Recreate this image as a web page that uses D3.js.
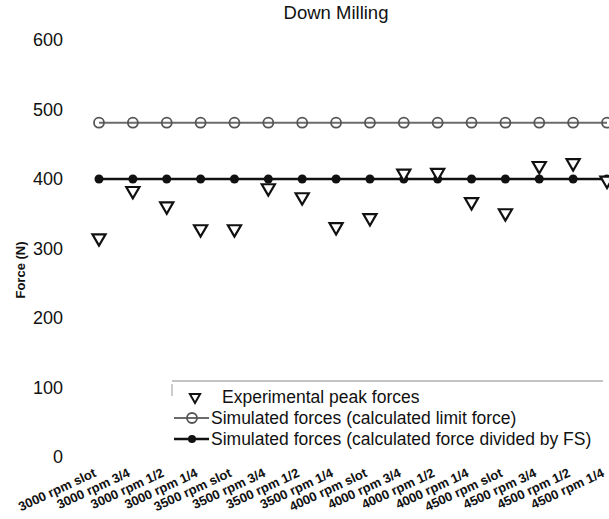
<!DOCTYPE html>
<html>
<head>
<meta charset="utf-8">
<script src="https://cdn.jsdelivr.net/npm/d3@7"></script>
<style>
  body { margin: 0; background: #fff; }
  svg { display: block; font-family: "Liberation Sans", Arial, sans-serif; }
</style>
</head>
<body>
<div id="chart"></div>
<script>
// data
var categories = ["3000 rpm slot", "3000 rpm 3/4", "3000 rpm 1/2", "3000 rpm 1/4",
                  "3500 rpm slot", "3500 rpm 3/4", "3500 rpm 1/2", "3500 rpm 1/4",
                  "4000 rpm slot", "4000 rpm 3/4", "4000 rpm 1/2", "4000 rpm 1/4",
                  "4500 rpm slot", "4500 rpm 3/4", "4500 rpm 1/2", "4500 rpm 1/4"];
var experimental = [315, 383, 361, 328, 328, 387, 374, 331, 344, 408, 409, 367, 351, 419, 423, 398];
var limitForce = [481, 481, 481, 481, 481, 481, 481, 481, 481, 481, 481, 481, 481, 481, 481, 481];
var forceFS = [400, 400, 400, 400, 400, 400, 400, 400, 400, 400, 400, 400, 400, 400, 400, 400];
var yTicks = [0, 100, 200, 300, 400, 500, 600];
var legendLabels = ["Experimental peak forces",
                    "Simulated forces (calculated limit force)",
                    "Simulated forces (calculated force divided by FS)"];

var width = 609, height = 519;

var svg = d3.select("#chart").append("svg")
    .attr("width", width)
    .attr("height", height);

svg.append("rect").attr("width", width).attr("height", height).attr("fill", "#fff");

var x = d3.scalePoint().domain(categories).range([99, 607]);
var y = d3.scaleLinear().domain([0, 600]).range([457, 40]);

// titre
svg.append("text")
    .attr("x", 336).attr("y", 19)
    .attr("text-anchor", "middle")
    .attr("font-size", 18.5)
    .attr("fill", "#111")
    .text("Down Milling");

// axe y (labels only, no line)
var yAxis = svg.append("g")
    .attr("transform", "translate(63,0)")
    .call(d3.axisLeft(y).tickValues(yTicks).tickSize(0).tickPadding(0).tickFormat(d3.format("d")));
yAxis.select(".domain").remove();
yAxis.selectAll("text")
    .attr("font-size", 18)
    .attr("font-family", "Liberation Sans, Arial, sans-serif")
    .attr("fill", "#111");

svg.append("text")
    .attr("transform", "translate(25,270) rotate(-90)")
    .attr("text-anchor", "middle")
    .attr("font-size", 13)
    .attr("font-weight", "bold")
    .attr("fill", "#111")
    .text("Force (N)");

// labels x
svg.selectAll("text.xlab")
    .data(categories)
    .enter()
    .append("text")
    .attr("class", "xlab")
    .attr("transform", function(d) { return "translate(" + (x(d) - 2) + ",476) rotate(-25)"; })
    .attr("text-anchor", "end")
    .attr("font-size", 13)
    .attr("font-weight", "bold")
    .attr("fill", "#111")
    .text(function(d) { return d; });

// lignes
var line = function(vals) {
    return d3.line()
        .x(function(d, i) { return x(categories[i]); })
        .y(function(d) { return y(d); })(vals);
};

svg.append("path")
    .attr("d", line(limitForce))
    .attr("fill", "none")
    .attr("stroke", "#6b6b6b")
    .attr("stroke-width", 2);

svg.selectAll("circle.limit")
    .data(limitForce)
    .enter()
    .append("circle")
    .attr("class", "limit")
    .attr("cx", function(d, i) { return x(categories[i]); })
    .attr("cy", function(d) { return y(d); })
    .attr("r", 5)
    .attr("fill", "none")
    .attr("stroke", "#555")
    .attr("stroke-width", 1.8);

svg.append("path")
    .attr("d", line(forceFS))
    .attr("fill", "none")
    .attr("stroke", "#111")
    .attr("stroke-width", 2.5);

svg.selectAll("circle.fs")
    .data(forceFS)
    .enter()
    .append("circle")
    .attr("class", "fs")
    .attr("cx", function(d, i) { return x(categories[i]); })
    .attr("cy", function(d) { return y(d); })
    .attr("r", 4.5)
    .attr("fill", "#111");

var tri = d3.symbol().type(d3.symbolTriangle).size(75);
svg.selectAll("path.exp")
    .data(experimental)
    .enter()
    .append("path")
    .attr("class", "exp")
    .attr("d", tri)
    .attr("transform", function(d, i) { return "translate(" + x(categories[i]) + "," + y(d) + ") rotate(180)"; })
    .attr("fill", "#fff")
    .attr("stroke", "#111")
    .attr("stroke-width", 2.2);

// legende
var legend = svg.append("g");
legend.append("line")
    .attr("x1", 172).attr("x2", 603).attr("y1", 381).attr("y2", 381)
    .attr("stroke", "#888").attr("stroke-width", 1);
legend.append("line")
    .attr("x1", 172).attr("x2", 172).attr("y1", 384).attr("y2", 396)
    .attr("stroke", "#999").attr("stroke-width", 1);

var ly = [397, 418, 439];
legend.append("path")
    .attr("d", d3.symbol().type(d3.symbolTriangle).size(45))
    .attr("transform", "translate(195," + ly[0] + ") rotate(180)")
    .attr("fill", "#fff").attr("stroke", "#111").attr("stroke-width", 2);
legend.append("line")
    .attr("x1", 174).attr("x2", 209).attr("y1", ly[1]).attr("y2", ly[1])
    .attr("stroke", "#6b6b6b").attr("stroke-width", 2);
legend.append("circle")
    .attr("cx", 192).attr("cy", ly[1]).attr("r", 5)
    .attr("fill", "none").attr("stroke", "#555").attr("stroke-width", 1.8);
legend.append("line")
    .attr("x1", 174).attr("x2", 209).attr("y1", ly[2]).attr("y2", ly[2])
    .attr("stroke", "#111").attr("stroke-width", 2.5);
legend.append("circle")
    .attr("cx", 192).attr("cy", ly[2]).attr("r", 4)
    .attr("fill", "#111");

legend.selectAll("text")
    .data(legendLabels)
    .enter()
    .append("text")
    .attr("x", function(d, i) { return i === 0 ? 222 : 211; })
    .attr("y", function(d, i) { return ly[i] + 6; })
    .attr("font-size", 17.5)
    .attr("fill", "#111")
    .text(function(d) { return d; });
</script>
</body>
</html>
